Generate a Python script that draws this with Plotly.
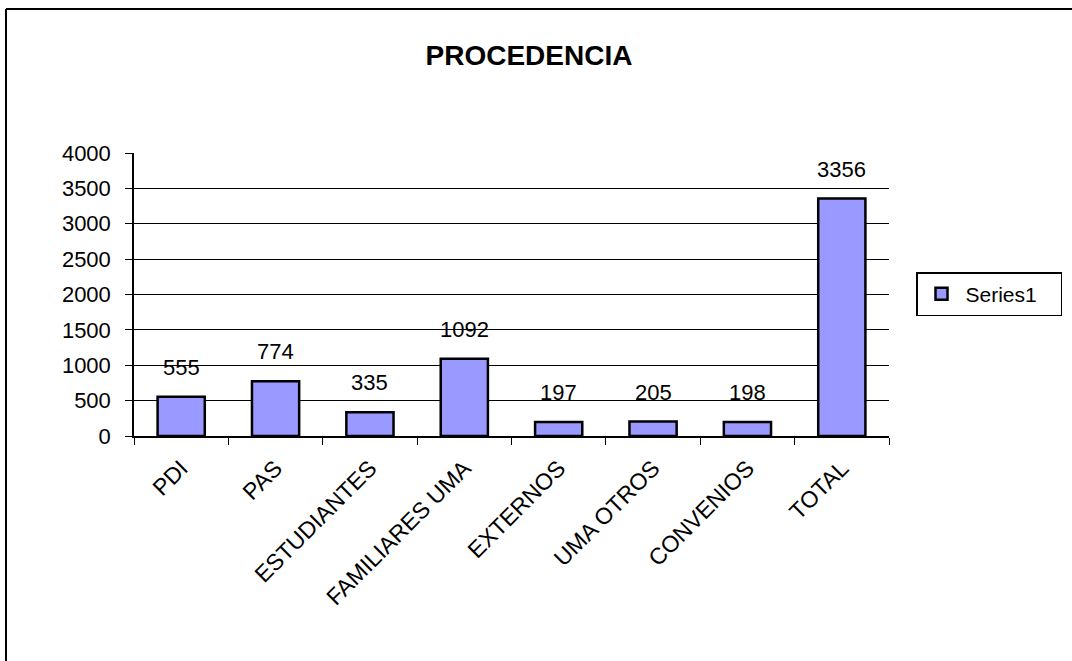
import plotly.graph_objects as go

categories = ["PDI", "PAS", "ESTUDIANTES", "FAMILIARES UMA", "EXTERNOS", "UMA OTROS", "CONVENIOS", "TOTAL"]
values = [555, 774, 335, 1092, 197, 205, 198, 3356]
y_ticks = [0, 500, 1000, 1500, 2000, 2500, 3000, 3500, 4000]

W, H = 1072, 661
L, R, T, B = 134, 889, 153, 436
FONT = "Arial, Liberation Sans, sans-serif"

fig = go.Figure()
fig.add_trace(go.Bar(
    x=categories, y=values, name="Series1", width=0.5,
    marker=dict(color="#9999FF", line=dict(color="black", width=2.5)),
    showlegend=True,
))

for c, v in zip(categories, values):
    fig.add_annotation(x=c, y=v, text=str(v), showarrow=False, yanchor="bottom",
                       yshift=15, font=dict(family=FONT, size=22, color="black"))

pw = R - L
ph = B - T
fig.add_shape(type="line", xref="paper", yref="paper",
              x0=(6 - L) / pw, x1=(W + 20 - L) / pw, y0=(B - 9) / ph, y1=(B - 9) / ph,
              line=dict(color="black", width=2))
fig.add_shape(type="line", xref="paper", yref="paper",
              x0=(6 - L) / pw, x1=(6 - L) / pw, y0=(B - 9) / ph, y1=(B - H - 20) / ph,
              line=dict(color="black", width=2))

fig.update_layout(
    width=W, height=H,
    margin=dict(l=L, r=W - R, t=T, b=H - B, autoexpand=False),
    paper_bgcolor="white", plot_bgcolor="white",
    font=dict(family=FONT, color="black"),
    title=dict(text="<b>PROCEDENCIA</b>", x=529 / W, xref="container", xanchor="center",
               y=1 - 55 / H, yref="container", yanchor="middle",
               font=dict(family=FONT, size=28, color="black")),
    bargap=0.5,
    legend=dict(x=(916 - L) / pw, y=(B - 272) / ph, xanchor="left", yanchor="top",
                orientation="h",
                bordercolor="black", borderwidth=1.5, bgcolor="white",
                itemwidth=38, entrywidth=90, entrywidthmode="pixels",
                font=dict(family=FONT, size=21, color="black")),
    xaxis=dict(
        showline=True, linecolor="black", linewidth=1.5,
        ticks="outside", tickson="boundaries", ticklen=7, tickcolor="black", tickwidth=1,
        tickangle=-45, tickfont=dict(family=FONT, size=23, color="black"),
        ticklabelstandoff=8,
        showgrid=False,
    ),
    yaxis=dict(
        range=[0, 4000], tickvals=y_ticks, ticktext=[str(t) for t in y_ticks],
        showline=True, linecolor="black", linewidth=1.5,
        ticks="outside", ticklen=7, tickcolor="black", tickwidth=1,
        showgrid=True, gridcolor="black", gridwidth=1.2, zeroline=False,
        tickfont=dict(family=FONT, size=22, color="black"),
        ticklabelstandoff=10,
    ),
)

fig.write_html("out.html", config={"displayModeBar": False},
               post_script="document.body.style.margin='0';document.body.style.overflow='hidden';")
